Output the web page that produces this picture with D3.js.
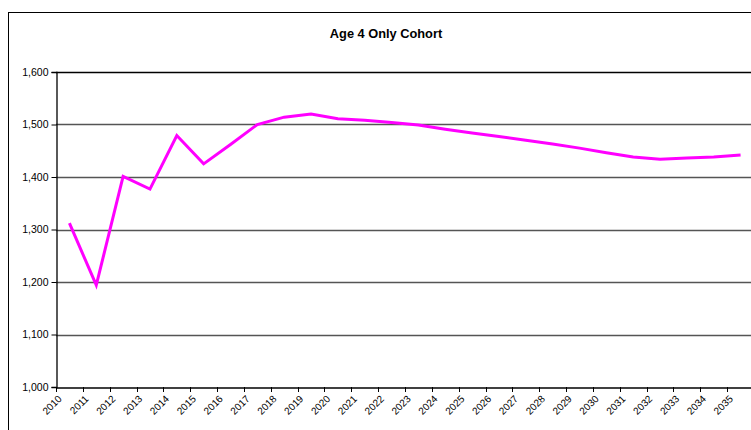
<!DOCTYPE html>
<html><head><meta charset="utf-8">
<script src="https://cdn.jsdelivr.net/npm/d3@7"></script>
<style>body{margin:0;background:#fff}svg{display:block}text{font-family:"Liberation Sans",Arial,sans-serif}</style>
</head><body>
<svg id="c" width="751" height="430"></svg>
<script>
const title = "Age 4 Only Cohort";
const years = ["2010","2011","2012","2013","2014","2015","2016","2017","2018","2019","2020","2021","2022","2023","2024","2025","2026","2027","2028","2029","2030","2031","2032","2033","2034","2035"];
const cohort = [1312,1194,1401,1377,1479,1425,1462,1500,1514,1520,1511,1508,1504,1499,1491,1484,1477,1470,1463,1455,1446,1438,1434,1436,1438,1442];
const yTicks = [1000,1100,1200,1300,1400,1500,1600];

const svg = d3.select("#c");
const L = 56, T = 72, B = 387, R = 754;
const x = d3.scaleBand().domain(years).range([L, R]);
const y = d3.scaleLinear().domain([1000, 1600]).range([B, T]);

// outer chart border
svg.append("rect").attr("x", 8.5).attr("y", 12.5).attr("width", 800).attr("height", 500)
  .attr("fill", "#fff").attr("stroke", "#000").attr("stroke-width", 1);

svg.append("text").attr("x", 386).attr("y", 37.5).attr("text-anchor", "middle")
  .attr("font-size", 12.8).attr("font-weight", "bold").text(title);

// gridlines
svg.append("g").selectAll("line").data(yTicks.filter(d => d > 1000 && d < 1600)).join("line")
  .attr("x1", L).attr("x2", R).attr("y1", d => Math.round(y(d)) + 0.5).attr("y2", d => Math.round(y(d)) + 0.5)
  .attr("stroke", "#555").attr("stroke-width", 1.3);

// plot frame top
svg.append("line").attr("x1", L).attr("x2", R).attr("y1", T + 0.5).attr("y2", T + 0.5).attr("stroke", "#000").attr("stroke-width", 1.3);

// y axis
const ya = svg.append("g").attr("transform", `translate(${L + 0.5},0)`)
  .call(d3.axisLeft(y).tickValues(yTicks).tickSize(5).tickPadding(3).tickFormat(d3.format(",")));
ya.select(".domain").attr("stroke", "#000").attr("stroke-width", 1.3);
ya.selectAll("text").attr("font-size", 10.5).attr("fill", "#000").attr("font-family", "Liberation Sans, Arial, sans-serif");

// x axis
const xa = svg.append("g").attr("transform", `translate(0,${B + 0.5})`)
  .call(d3.axisBottom(x).tickSize(0).tickPadding(0));
xa.select(".domain").attr("stroke", "#000").attr("stroke-width", 1.3);
xa.selectAll(".tick line").remove();
xa.selectAll(".tick text").attr("font-size", 10).attr("fill", "#000")
  .attr("font-family", "Liberation Sans, Arial, sans-serif")
  .attr("text-anchor", "end").attr("dy", 0)
  .attr("transform", "translate(-7,12) rotate(-45)");
// tick marks between categories
svg.append("g").selectAll("line").data(years).join("line")
  .attr("x1", d => Math.round(x(d)) + 0.5).attr("x2", d => Math.round(x(d)) + 0.5)
  .attr("y1", B).attr("y2", B + 5).attr("stroke", "#000");

// line
const line = d3.line().x((d, i) => x(years[i]) + x.bandwidth() / 2).y(d => y(d));
svg.append("path").datum(cohort).attr("d", line).attr("fill", "none")
  .attr("stroke", "#ff00ff").attr("stroke-width", 3).attr("stroke-linejoin", "miter");
</script>
</body></html>
